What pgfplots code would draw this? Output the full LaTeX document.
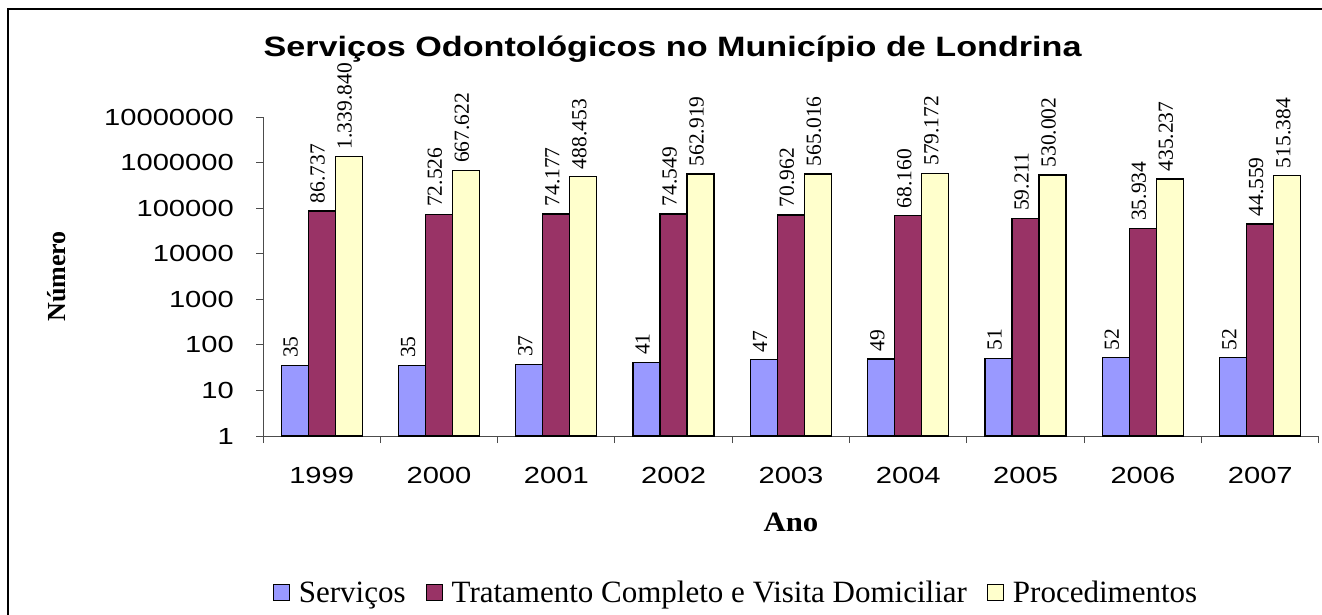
\documentclass[border=0pt]{standalone}
\usepackage{fontspec}
\setmainfont{Liberation Serif}
\newfontfamily\ticksf[FakeStretch=1.25]{Liberation Sans}
\newfontfamily\titlesf[FakeStretch=1.22]{Liberation Sans}
\newfontfamily\labelsf[FakeStretch=1.1]{Liberation Serif}
\usepackage{pgfplots}
\pgfplotsset{compat=1.18}
\definecolor{cA}{HTML}{9999FF}
\definecolor{cB}{HTML}{993366}
\definecolor{cC}{HTML}{FFFFCC}

\pgfplotstableread{
x s t p
0 35 86737 1339840
1 35 72526 667622
2 37 74177 488453
3 41 74549 562919
4 47 70962 565016
5 49 68160 579172
6 51 59211 530002
7 52 35934 435237
8 52 44559 515384
}\datatab

\pgfplotsset{sqleg/.style={legend image code/.code={\draw[##1, line width=1pt, draw=black] (0pt,-8pt) rectangle (16pt,8pt);}}}

\begin{document}
\begin{tikzpicture}[x=1pt,y=1pt]
\draw[line width=2pt] (8,-615) -- (8,-9) -- (1322,-9);
\node[anchor=base, font=\titlesf\bfseries\fontsize{28}{30}\selectfont] at (672.5,-57) {Serviços Odontológicos no Município de Londrina};
\begin{axis}[
  at={(263pt,-436pt)}, anchor=south west,
  scale only axis, width=1056pt, height=319pt,
  ymode=log, ymin=1, ymax=1e7, xmin=-0.5, xmax=8.5,
  axis x line*=bottom, axis y line*=left,
  axis line style={black!70, line width=1pt},
  every tick/.style={black!70, line width=1pt},
  tick align=outside, major tick length=7pt,
  yminorticks=false,
  ytick={1,10,100,1000,10000,100000,1000000,10000000},
  yticklabels={1,10,100,1000,10000,100000,1000000,10000000},
  xtick={-0.5,0.5,...,8.5},
  xticklabels={},
  extra x ticks={0,1,2,3,4,5,6,7,8},
  extra x tick labels={1999,2000,2001,2002,2003,2004,2005,2006,2007},
  extra x tick style={major tick length=0pt},
  ticklabel style={font=\ticksf\fontsize{23.3}{24}\selectfont},
  yticklabel style={anchor=east, inner sep=0pt, xshift=-22pt},
  xticklabel style={anchor=north, inner sep=0pt, yshift=-31pt},
  ybar=0pt, bar width=27pt,
  nodes near coords, point meta=rawy,
  /pgf/number format/fixed, /pgf/number format/precision=0,
  /pgf/number format/1000 sep={.},
  /pgf/number format/assume math mode=true,
  every node near coord/.append style={font=\fontsize{21.5}{22}\selectfont, xshift=-4pt, rotate=90, anchor=west, inner xsep=7pt, inner ysep=1pt, black},
  xlabel={Ano}, ylabel={Número},
  every axis x label/.style={at={(axis description cs:0.5,0)}, yshift=-86pt, anchor=center, font=\labelsf\bfseries\fontsize{28}{30}\selectfont},
  every axis y label/.style={at={(axis description cs:0,0.5)}, xshift=-206pt, rotate=90, anchor=center, font=\bfseries\fontsize{26}{28}\selectfont},
  legend style={at={(0.448,-0.492)}, anchor=center, draw=none, legend columns=3, font=\fontsize{31}{33}\selectfont, /tikz/every even column/.append style={column sep=18pt}, /tikz/every odd column/.append style={column sep=7pt}, inner sep=0pt},
]
\addplot[fill=cA, draw=black, line width=1.3pt, sqleg] table[x=x,y=s] {\datatab};
\addplot[fill=cB, draw=black, line width=1.3pt, sqleg] table[x=x,y=t] {\datatab};
\addplot[fill=cC, draw=black, line width=1.3pt, sqleg] table[x=x,y=p] {\datatab};
\legend{Serviços, Tratamento Completo e Visita Domiciliar, Procedimentos}
\end{axis}
\pgfresetboundingbox
\path[use as bounding box] (0,0) rectangle (1322,-615);
\end{tikzpicture}
\end{document}
